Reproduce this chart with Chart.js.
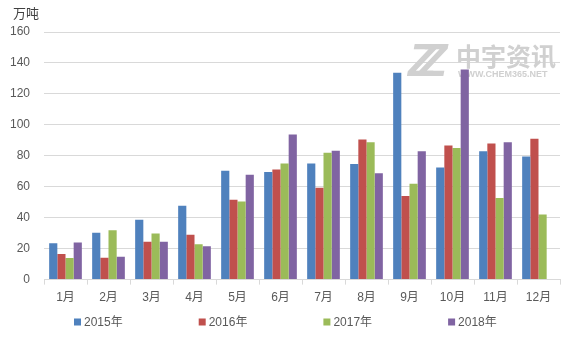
<html lang="zh">
  <head>
    <meta charset="UTF-8" />
    <title>月度数据</title>
    <script src="https://cdn.jsdelivr.net/npm/chart.js"></script>
    <style>
      body {
        margin: 0;
        background: #fff;
      }
      #wrap {
        position: relative;
        width: 567px;
        height: 341px;
      }
    </style>
  </head>
  <body>
    <div id="wrap"><canvas id="chart" width="567" height="341"></canvas></div>

    <script>
      const months = ["1月", "2月", "3月", "4月", "5月", "6月", "7月", "8月", "9月", "10月", "11月", "12月"];
      const seriesNames = ["2015年", "2016年", "2017年", "2018年"];
      const v2015 = [23.5, 30.2, 38.7, 47.7, 70.4, 69.5, 75, 74.7, 133.6, 72.5, 83, 79.5];
      const v2016 = [16.6, 14.2, 24.4, 29, 51.6, 71.2, 59.4, 90.5, 54, 86.6, 88, 91];
      const v2017 = [14, 31.9, 29.8, 22.9, 50.5, 75, 82, 88.7, 62, 85, 52.7, 42];
      const v2018 = [24, 14.7, 24.4, 21.6, 67.8, 93.7, 83.3, 68.8, 83, 135.8, 88.7, null];
      const colors = ["#4F81BD", "#C0504D", "#9BBB59", "#8064A2"];

      const FONT = '"Liberation Sans", "Noto Sans CJK SC", sans-serif';
      const TXT = "#595959";

      const datasets = [v2015, v2016, v2017, v2018].map((d, i) => ({
        label: seriesNames[i],
        data: d,
        backgroundColor: colors[i],
        borderWidth: 0,
        categoryPercentage: 0.76,
        barPercentage: 1.0,
      }));

      // unit label, watermark and a wide-spaced legend (built-in one wraps)
      const extras = {
        id: "extras",
        beforeDatasetsDraw(chart) {
          const ctx = chart.ctx;
          ctx.save();
          ctx.fillStyle = "#d0d0d0";
          ctx.font = 'bold italic 46px "Liberation Sans", sans-serif';
          ctx.textBaseline = "alphabetic";
          ctx.fillText("Z", 408, 76);
          ctx.fillText("Z", 419, 76);
          ctx.font = 'bold 25px "Noto Sans CJK SC", sans-serif';
          ctx.textAlign = "left";
          ctx.fillText("中宇资讯", 456, 66);
          ctx.font = 'bold 9px "Liberation Sans", sans-serif';
          ctx.fillText("WWW.CHEM365.NET", 458, 77);
          ctx.restore();
        },
        afterDraw(chart) {
          const ctx = chart.ctx;
          ctx.save();
          ctx.fillStyle = "#404040";
          ctx.font = '13px "Noto Sans CJK SC", sans-serif';
          ctx.textBaseline = "middle";
          ctx.fillText("万吨", 13, 13);

          const y = 322;
          const step = 124.7;
          const x0 = 74;
          ctx.font = '12px ' + FONT;
          chart.data.datasets.forEach((ds, i) => {
            const x = x0 + i * step;
            ctx.fillStyle = ds.backgroundColor;
            ctx.fillRect(x, y - 3.5, 7, 7);
            ctx.fillStyle = TXT;
            ctx.fillText(ds.label, x + 10, y + 1);
          });
          ctx.restore();
        },
      };

      new Chart(document.getElementById("chart"), {
        type: "bar",
        data: { labels: months, datasets: datasets },
        options: {
          responsive: false,
          animation: false,
          layout: { padding: { top: 32, right: 7, left: 0, bottom: 30 } },
          plugins: {
            tooltip: { enabled: false },
            legend: { display: false },
          },
          scales: {
            x: {
              grid: {
                drawOnChartArea: false,
                drawTicks: true,
                tickLength: 5,
                color: "#d9d9d9",
                offset: true,
              },
              border: { color: "#d9d9d9" },
              ticks: { color: TXT, font: { family: FONT, size: 12 }, padding: 6 },
            },
            y: {
              min: 0,
              max: 160,
              ticks: {
                stepSize: 20,
                autoSkip: false,
                color: TXT,
                font: { family: FONT, size: 12 },
                padding: 14,
              },
              grid: { color: "#d9d9d9", drawTicks: false },
              border: { display: false },
              afterFit(scale) {
                scale.width = 44;
              },
            },
          },
        },
        plugins: [extras],
      });
    </script>
  </body>
</html>
